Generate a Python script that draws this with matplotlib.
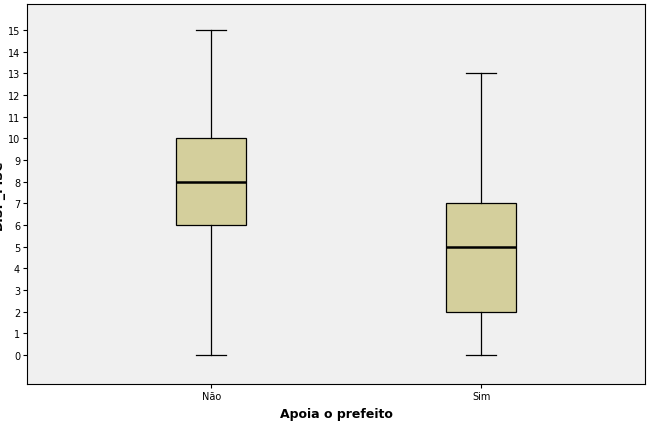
import matplotlib
matplotlib.use("Agg")
import matplotlib.pyplot as plt

categories = ["Não", "Sim"]
whislo = [0, 0]
q1 = [6, 2]
med = [8, 5]
q3 = [10, 7]
whishi = [15, 13]

stats = [
    {"label": c, "whislo": lo, "q1": a, "med": m, "q3": b, "whishi": hi}
    for c, lo, a, m, b, hi in zip(categories, whislo, q1, med, q3, whishi)
]

fig = plt.figure(figsize=(6.5, 4.27), dpi=100)
fig.patch.set_facecolor("white")
ax = fig.add_axes([0.0415, 0.098, 0.951, 0.89])
ax.set_facecolor("#F0F0F0")

ax.bxp(stats, positions=[1, 2], widths=0.26, patch_artist=True, showfliers=False,
       boxprops=dict(facecolor="#D4CF9C", edgecolor="black", linewidth=0.9),
       medianprops=dict(color="black", linewidth=1.8),
       whiskerprops=dict(color="black", linewidth=0.9),
       capprops=dict(color="black", linewidth=0.9), capwidths=0.11)

ax.set_xlim(0.318, 2.607)
ax.set_ylim(-1.34, 16.2)
ax.set_yticks(range(0, 16))
ax.tick_params(labelsize=7, length=3, pad=2)
ax.set_xticks([1, 2])
ax.set_xticklabels(categories)
ax.set_ylabel("DISP_FISC", fontsize=9, fontweight="bold", labelpad=2)
ax.yaxis.set_label_coords(-0.035, 0.5)
ax.set_xlabel("Apoia o prefeito", fontsize=9, fontweight="bold")
for s in ax.spines.values():
    s.set_linewidth(0.8)

fig.savefig("out.png", dpi=100)
